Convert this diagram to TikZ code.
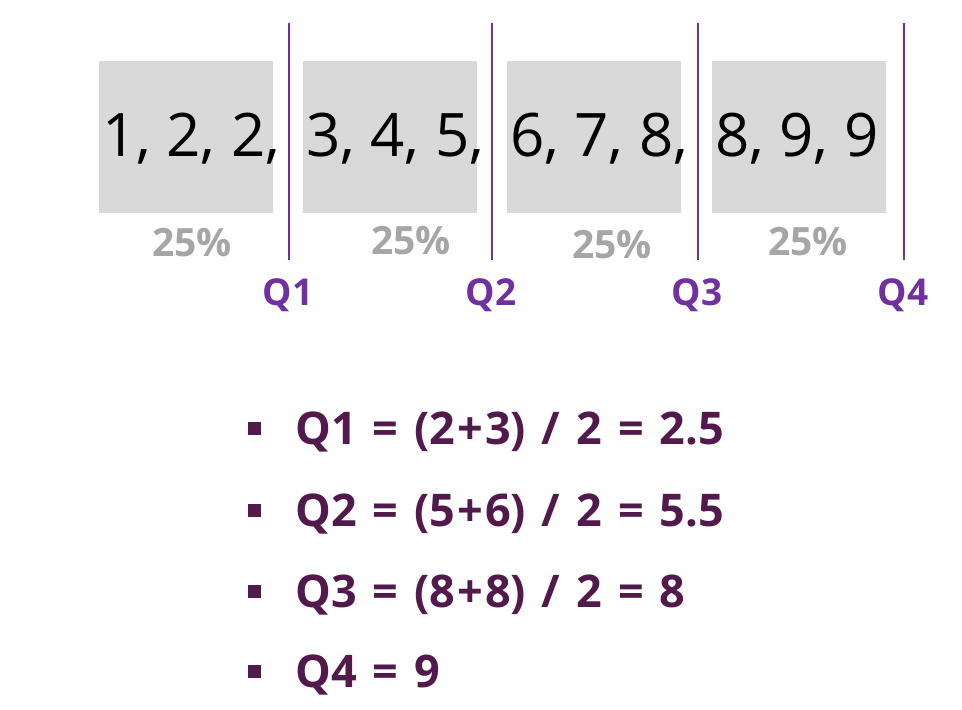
\documentclass[tikz,border=0pt]{standalone}
\usepackage{fontspec}
\setmainfont{Open Sans}
\usetikzlibrary{positioning}
\definecolor{qpurple}{HTML}{7030A0}
\definecolor{boxgray}{HTML}{D9D9D9}
\definecolor{pctgray}{HTML}{A6A6A6}
\definecolor{plum}{HTML}{521A4C}
\newcommand{\widesp}{\spaceskip=16pt\relax}

\begin{document}
\begin{tikzpicture}[x=1pt,y=-1pt,
    valbox/.style={fill=boxgray,minimum width=174pt,minimum height=152pt,inner sep=0pt},
    vals/.style={anchor=base west,inner sep=0pt,font=\fontsize{60}{72}\selectfont},
    pct/.style={anchor=base,inner sep=0pt,text=pctgray,font=\bfseries\fontsize{39}{46}\selectfont},
    qlab/.style={anchor=base,inner sep=0pt,text=qpurple,font=\bfseries\fontsize{37}{44}\selectfont},
    qline/.style={qpurple,line width=2pt},
    eqn/.style={anchor=base west,inner sep=0pt,text=plum,font=\bfseries\fontsize{45}{54}\selectfont},
    bullet/.style={fill=plum,minimum size=13pt,inner sep=0pt}]
  \useasboundingbox (0,0) rectangle (962,710);
  % the four quarters
  \foreach \i/\x/\v/\px/\py in {1/186/{1, 2, 2,}/192/256,2/390/{3, 4, 5,}/411/254,
                                3/594/{6, 7, 8,}/612/258,4/799/{8, 9, 9}/808/255} {
    \node[valbox] (box\i) at (\x,137) {};
    \node[vals] (val\i) at ([xshift=3pt]box\i.west |- 0,156) {\v};
    \node[pct] (pct\i) at (\px,\py) {25\%};
  }
  % quartile markers
  \foreach \i/\x in {1/289,2/492,3/698,4/904} {
    \coordinate (top\i) at (\x,23);
    \coordinate (bot\i) at (\x,260);
    \draw[qline] (top\i) -- (bot\i);
    \node[qlab] (q\i) at (\x-1,305) {Q\i};
  }
  % results
  \foreach \i/\y/\t in {1/444/{Q1 = (2\kern2pt+\kern2pt3) / 2 = 2.5},2/526/{Q2 = (5\kern2pt+\kern2pt6) / 2 = 5.5},
                        3/607/{Q3 = (8\kern2pt+\kern2pt8) / 2 = 8},4/687/{Q4 = 9}} {
    \node[eqn] (eq\i) at (295,\y) {\widesp\t};
    \node[bullet] (dot\i) at (254.5,\y-16) {};
  }
\end{tikzpicture}
\end{document}
